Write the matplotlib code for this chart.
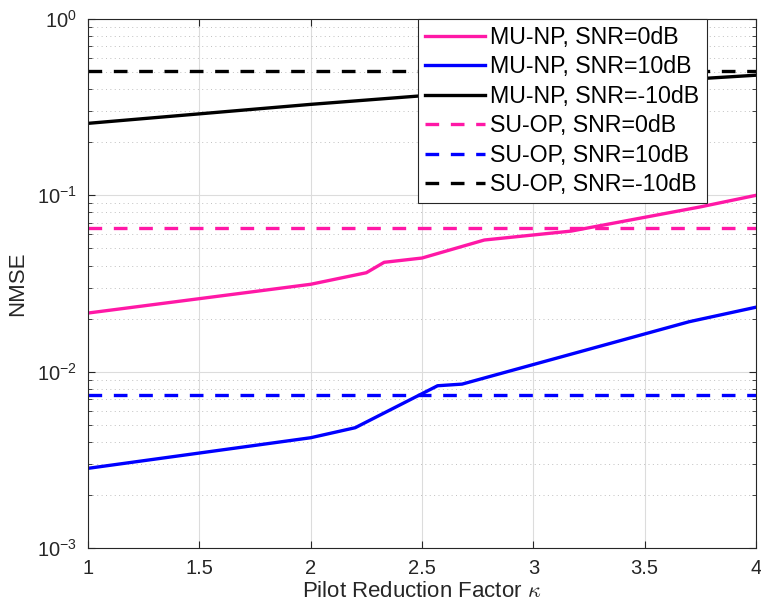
#!/usr/bin/python3

import numpy
import matplotlib
matplotlib.use("Agg")
import matplotlib.pyplot as plt
from matplotlib import ticker

plt.rcParams['font.family'] = ['Liberation Sans', 'DejaVu Sans']
plt.rcParams['mathtext.fontset'] = 'cm'

# MU-NP curves (kappa, NMSE)
kappa_0db = [1, 2, 2.25, 2.33, 2.5, 2.78, 3.17, 3.75, 4]
nmse_0db = [0.0215, 0.0313, 0.0364, 0.0417, 0.0441, 0.0558, 0.0627, 0.086, 0.100]

kappa_10db = [1, 2, 2.2, 2.57, 2.68, 3.7, 4]
nmse_10db = [0.00283, 0.00422, 0.00481, 0.00832, 0.0085, 0.0192, 0.0232]

kappa_m10db = [1, 2, 2.5, 4]
nmse_m10db = [0.256, 0.328, 0.367, 0.48]

# SU-OP are flat over the whole kappa range
kappa_range = [1, 4]
su_0db = 0.0655
su_10db = 0.0074
su_m10db = 0.507

pink = '#ff18a6'
blue = '#0000ff'
black = '#000000'
lw = 2.4
dash = (0, (4.1, 3.5))

fig = plt.figure(figsize=(7.61, 6.11), dpi=100)
ax = fig.add_axes([88 / 761, 63 / 611, 668 / 761, 529 / 611])

ax.plot(kappa_0db, nmse_0db, color=pink, lw=lw, label='MU-NP, SNR=0dB')
ax.plot(kappa_10db, nmse_10db, color=blue, lw=lw, label='MU-NP, SNR=10dB')
ax.plot(kappa_m10db, nmse_m10db, color=black, lw=lw, label='MU-NP, SNR=-10dB')
ax.plot(kappa_range, [su_0db] * 2, color=pink, lw=lw, ls=dash, label='SU-OP, SNR=0dB')
ax.plot(kappa_range, [su_10db] * 2, color=blue, lw=lw, ls=dash, label='SU-OP, SNR=10dB')
ax.plot(kappa_range, [su_m10db] * 2, color=black, lw=lw, ls=dash, label='SU-OP, SNR=-10dB')

ax.set_yscale('log')
ax.set_xlim(1, 4)
ax.set_ylim(1e-3, 1)
ax.set_xticks(numpy.arange(1, 4.01, 0.5))
ax.xaxis.set_major_formatter(ticker.FormatStrFormatter('%g'))
ax.yaxis.set_major_locator(ticker.LogLocator(base=10, numticks=10))
ax.yaxis.set_minor_locator(ticker.LogLocator(base=10, subs=numpy.arange(2, 10), numticks=20))
ax.yaxis.set_minor_formatter(ticker.NullFormatter())
ax.yaxis.set_major_formatter(ticker.FuncFormatter(
    lambda v, pos: r'$\mathregular{10^{%d}}$' % round(numpy.log10(v))))

ax.grid(which='major', color='#dcdcdc', lw=0.8, ls='-')
ax.grid(which='minor', axis='y', color='#c0c0c0', lw=0.7, ls=(0, (1, 3.5)))
ax.set_axisbelow(True)

ax.tick_params(which='both', direction='in', top=True, right=True,
               colors='#262626', labelsize=14.5, labelcolor='#262626')
ax.tick_params(which='major', length=5, width=0.8, pad=8)
ax.tick_params(which='minor', length=3, width=0.6)
for s in ax.spines.values():
    s.set_color('#262626')
    s.set_linewidth(0.8)

ax.set_xlabel(r'Pilot Reduction Factor $\kappa$', fontsize=16, color='#262626', labelpad=2)
ax.set_ylabel('NMSE', fontsize=16, color='#262626', labelpad=6)

leg = ax.legend(loc='upper right', bbox_to_anchor=(0.926, 1.0), borderaxespad=0,
                fontsize=16.7, fancybox=False, framealpha=1, edgecolor='#262626',
                handlelength=2.6, handletextpad=0.23, labelspacing=0.28,
                borderpad=0.3)
leg.get_frame().set_linewidth(0.8)

fig.savefig('out.png', dpi=100)
